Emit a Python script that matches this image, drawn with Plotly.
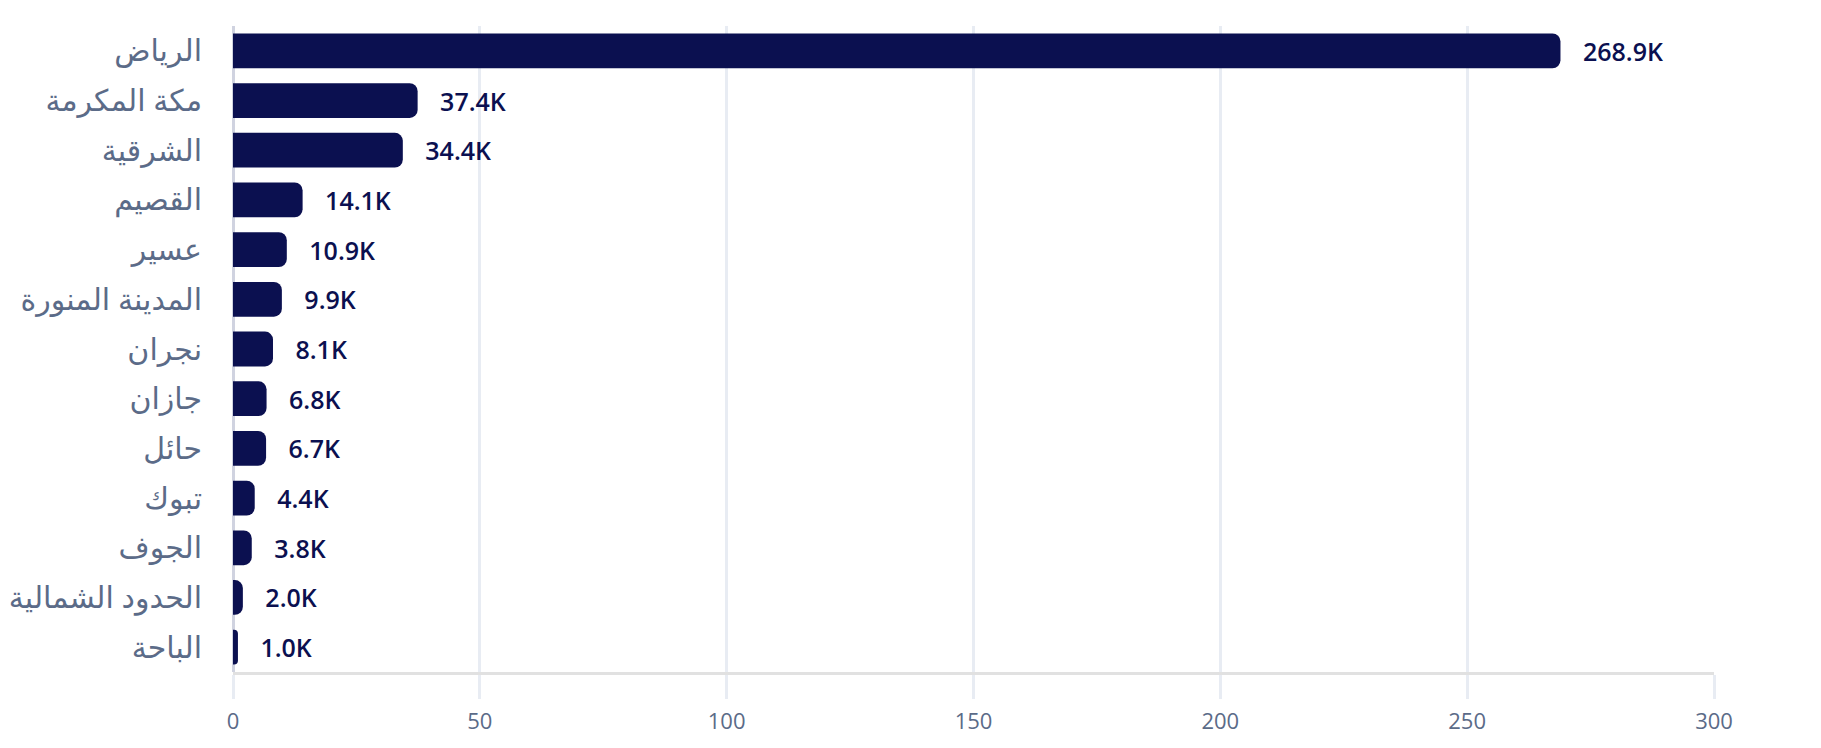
import plotly.graph_objects as go

# regions, top to bottom, with counts in thousands
REGIONS = ['الرياض', 'مكة المكرمة', 'الشرقية', 'القصيم', 'عسير', 'المدينة المنورة',
           'نجران', 'جازان', 'حائل', 'تبوك', 'الجوف', 'الحدود الشمالية', 'الباحة']
COUNTS_K = [268.9, 37.4, 34.4, 14.1, 10.9, 9.9, 8.1, 6.8, 6.7, 4.4, 3.8, 2.0, 1.0]
X_TICKS = [0, 50, 100, 150, 200, 250, 300]

NAVY = '#0b1050'
SLATE = '#5b6b88'
GRID = '#e8ecf3'

# label text with a bit of padding in front of it
labels = ['\u00a0\u00a0\u00a0%.1fK' % v for v in COUNTS_K]

fig = go.Figure(go.Bar(
    x=COUNTS_K,
    y=REGIONS,
    orientation='h',
    marker=dict(color=NAVY, line=dict(width=0)),
    text=labels,
    textposition='outside',
    cliponaxis=False,
    textfont=dict(family='Open Sans, DejaVu Sans', size=25, color=NAVY, weight=600),
))

# page has an 8px body margin, so the figure is a bit smaller than the window
fig.update_layout(
    width=1805,
    height=732,
    margin=dict(l=225, r=99, t=18, b=68),
    paper_bgcolor='white',
    plot_bgcolor='white',
    bargap=0.3,
    barcornerradius=8,
    showlegend=False,
    font=dict(family='Open Sans, DejaVu Sans', size=22, color=SLATE),
)

fig.update_xaxes(
    range=[0, 300],
    tickvals=X_TICKS,
    showgrid=True,
    gridcolor=GRID,
    gridwidth=2.5,
    zeroline=True,
    zerolinecolor='#d0d3e0',
    zerolinewidth=3,
    showline=True,
    linecolor='#e1e1e1',
    linewidth=3,
    ticks='outside',
    ticklen=24,
    tickwidth=2.5,
    tickcolor=GRID,
    ticklabelstandoff=4,
    automargin=False,
    tickfont=dict(size=22, color=SLATE),
)

fig.update_yaxes(
    autorange='reversed',
    showgrid=False,
    ticks='',
    ticklabelstandoff=30,
    automargin=False,
    tickfont=dict(size=30, color=SLATE),
)

fig.write_html('out.html')
